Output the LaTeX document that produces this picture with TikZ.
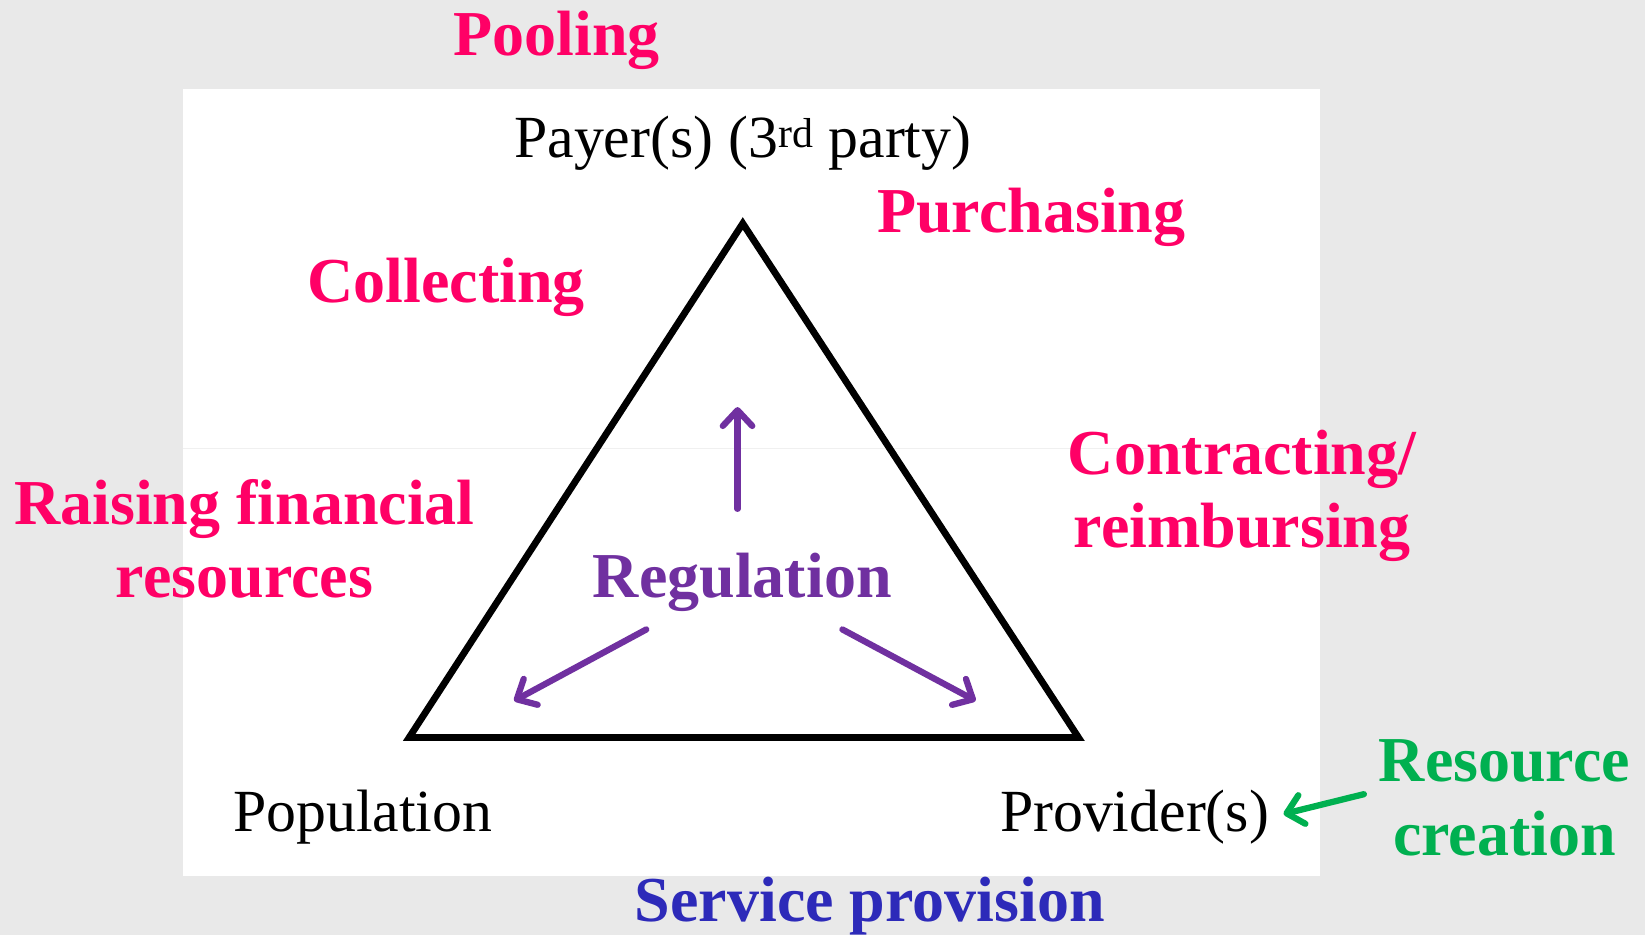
\documentclass[tikz,border=0pt]{standalone}
\usepackage{fontspec}
\setmainfont{Liberation Serif}
\usetikzlibrary{arrows.meta}
\definecolor{funcpink}{RGB}{255,0,102}
\definecolor{regpurple}{RGB}{112,48,160}
\definecolor{resgreen}{RGB}{0,176,80}
\definecolor{servblue}{RGB}{45,42,185}
\definecolor{slidegray}{RGB}{233,233,233}
\begin{document}
\begin{tikzpicture}[x=1pt,y=-1pt,
    func/.style={text=funcpink,font=\fontsize{61}{70}\selectfont\bfseries,inner sep=0pt,align=center},
    actor/.style={font=\fontsize{57}{60}\selectfont,inner sep=0pt},
    regarrow/.style={regpurple,line width=6pt,line cap=round,-{Straight Barb[length=15pt,width=28pt,round]}}]
        % Background
        \fill[slidegray] (0,0) rectangle (1568,891);
        \useasboundingbox (0,0) rectangle (1568,891);
        \fill[white] (174,85) rectangle (1258,835);
        \draw[black!6,line width=0.8pt] (174,427) -- (1258,427);

        % Coordinates
        \coordinate (P) at (708,213);
        \coordinate (L) at (390,703);
        \coordinate (R) at (1028,703);
        \coordinate (U1) at (703,485);
        \coordinate (U2) at (703,388);
        \coordinate (A1) at (616,600);
        \coordinate (A2) at (490,668);
        \coordinate (B1) at (803,600);
        \coordinate (B2) at (930,668);
        \coordinate (G1) at (1300,757);

        % Drawing the triangle
        \draw[line width=6.5pt,miter limit=20] (P) -- (L) -- (R) -- cycle;

        % Labels
        \node[actor,anchor=base] (payer) at (708,150) {Payer(s) (3\textsuperscript{rd} party)};
        \node[actor,anchor=base west] (pop) at (222,793) {Population};
        \node[actor,anchor=base west] (prov) at (953,793) {Provider(s)};
        \node[func,anchor=base west] (pool) at (432,53) {Pooling};
        \node[func,anchor=base west] (purch) at (836,222) {Purchasing};
        \node[func,anchor=base west] (coll) at (293,288) {Collecting};
        \node[func,anchor=base] (contr) at (1184,522) {Contracting/\\reimbursing};
        \node[func,anchor=base] (raise) at (233,570) {Raising financial\\resources};
        \node[func,anchor=base west,text=regpurple] (reg) at (565,570) {Regulation};
        \node[func,anchor=base,text=resgreen] (res) at (1434,815) {Resource\\creation};
        \node[func,anchor=base west,text=servblue] (serv) at (605,878) {Service provision};

        % Arrows
        \draw[regarrow] (U1) -- (U2);
        \draw[regarrow] (A1) -- (A2);
        \draw[regarrow] (B1) -- (B2);
        \draw[regarrow,resgreen,shorten >=14pt] (G1) -- (prov.east);
\end{tikzpicture}
\end{document}
